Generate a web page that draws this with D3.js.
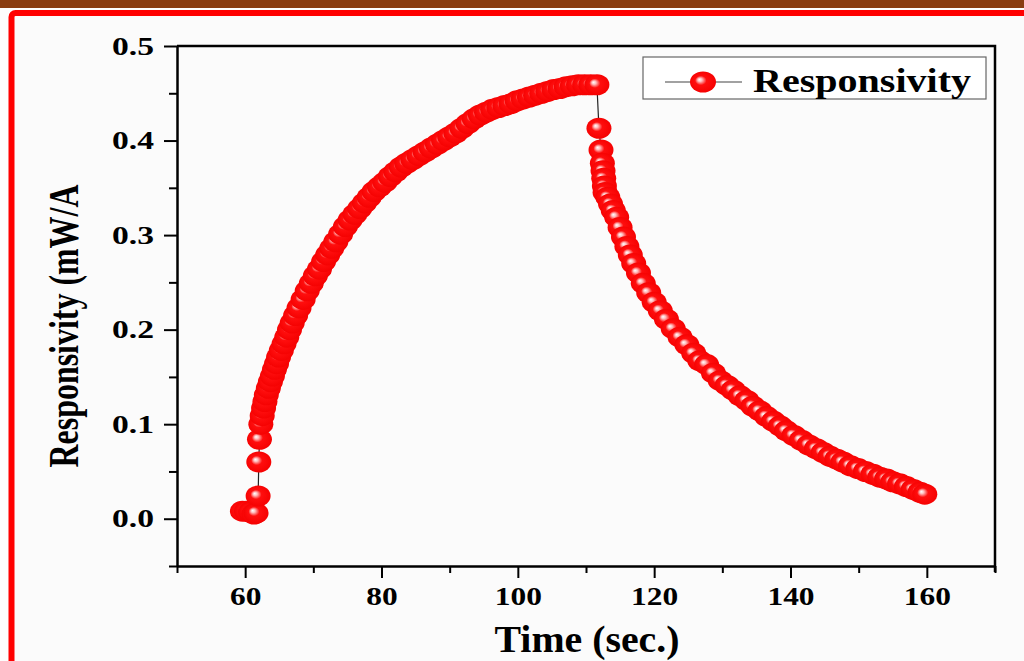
<!DOCTYPE html>
<html lang="en">
<head>
  <meta charset="UTF-8" />
  <title>Responsivity vs Time</title>
  <script src="https://d3js.org/d3.v7.min.js"></script>
  <style>
    body { margin: 0; background: #fdfdfd; }
    text { font-family: "Liberation Serif", "Times New Roman", serif; font-weight: bold; fill: #000; }
  </style>
</head>
<body>
  <div id="chart"></div>
  <script>
    // rise (light on) : time in sec, responsivity in mW/A
    const riseTime = [59.6, 60.2, 60.8, 61.3, 61.6, 61.9, 62.0, 62.1, 62.3, 62.5, 62.7, 62.9, 63.1, 63.4, 63.7, 64.0, 64.3, 64.6, 64.9, 65.3,
      65.7, 66.1, 66.5, 66.9, 67.4, 67.9, 68.5, 69.1, 69.7, 70.3, 70.9, 71.5, 72.1, 72.7, 73.3, 74.0, 74.7, 75.4, 76.1, 76.8,
      77.5, 78.2, 78.9, 79.7, 80.5, 81.3, 82.1, 82.9, 83.7, 84.6, 85.5, 86.4, 87.3, 88.2, 89.1, 90.0, 90.9, 91.8, 92.7, 93.6,
      94.5, 95.4, 96.3, 97.2, 98.1, 99.0, 99.9, 100.8, 101.7, 102.6, 103.5, 104.4, 105.3, 106.2, 107.1, 108.0, 108.9, 109.8, 110.7, 111.6];
    const riseResp = [0.008, 0.008, 0.007, 0.005, 0.006, 0.024, 0.060, 0.084, 0.100, 0.109, 0.117, 0.124, 0.131, 0.138, 0.145, 0.151, 0.158, 0.164, 0.171, 0.178,
      0.185, 0.192, 0.200, 0.207, 0.215, 0.223, 0.232, 0.241, 0.249, 0.257, 0.264, 0.272, 0.279, 0.286, 0.293, 0.301, 0.309, 0.316, 0.322, 0.328,
      0.334, 0.340, 0.346, 0.351, 0.356, 0.362, 0.367, 0.372, 0.376, 0.380, 0.384, 0.388, 0.392, 0.396, 0.400, 0.404, 0.408, 0.413, 0.418, 0.423,
      0.427, 0.430, 0.433, 0.435, 0.437, 0.439, 0.442, 0.444, 0.446, 0.448, 0.450, 0.452, 0.454, 0.455, 0.457, 0.458, 0.459, 0.459, 0.459, 0.459];
    // decay (light off)
    const decayTime = [111.9, 112.2, 112.4, 112.5, 112.6, 112.7, 112.8, 113.2, 113.6, 114.0, 114.5, 115.0, 115.5, 116.0, 116.5, 117.0, 117.7, 118.4, 119.2, 120.0,
      120.9, 121.8, 122.8, 123.8, 124.8, 125.8, 126.7, 127.7, 128.7, 129.7, 130.7, 131.6, 132.6, 133.6, 134.5, 135.5, 136.5, 137.5, 138.5, 139.4,
      140.5, 141.6, 142.7, 143.8, 144.8, 145.8, 146.8, 147.7, 148.8, 149.9, 151.0, 152.1, 153.1, 154.1, 155.0, 156.0, 157.0, 158.0, 159.0, 159.7];
    const decayResp = [0.413, 0.390, 0.376, 0.368, 0.360, 0.352, 0.345, 0.340, 0.333, 0.326, 0.319, 0.308, 0.298, 0.288, 0.279, 0.270, 0.260, 0.249, 0.239, 0.229,
      0.220, 0.211, 0.201, 0.192, 0.184, 0.175, 0.167, 0.163, 0.154, 0.146, 0.141, 0.136, 0.130, 0.125, 0.119, 0.114, 0.108, 0.103, 0.098, 0.093,
      0.088, 0.083, 0.078, 0.074, 0.070, 0.066, 0.063, 0.060, 0.056, 0.053, 0.050, 0.047, 0.044, 0.042, 0.039, 0.037, 0.034, 0.031, 0.028, 0.026];

    const xMajor = [60, 80, 100, 120, 140, 160];
    const xMinor = [50, 70, 90, 110, 130, 150, 170];
    const yMajor = [0.0, 0.1, 0.2, 0.3, 0.4, 0.5];
    const yMinor = [-0.05, 0.05, 0.15, 0.25, 0.35, 0.45];
    const seriesName = "Responsivity";

    const width = 1024, height = 661;
    const plot = {left: 177, right: 995, top: 46, bottom: 566};

    const svg = d3.select("#chart").append("svg").attr("width", width).attr("height", height);

    // slide decoration: brown bar and red frame
    svg.append("rect").attr("x", 0).attr("y", 0).attr("width", width).attr("height", 8).attr("fill", "#8a3c10");
    svg.append("rect").attr("x", 11.5).attr("y", 13).attr("width", width + 20).attr("height", height + 20)
      .attr("rx", 4).attr("fill", "#fbfbfb").attr("stroke", "#ff0000").attr("stroke-width", 6);

    const x = d3.scaleLinear().domain([50, 170]).range([plot.left, plot.right]);
    const y = d3.scaleLinear().domain([-0.05, 0.5]).range([plot.bottom, plot.top]);

    const defs = svg.append("defs");
    const grad = defs.append("radialGradient").attr("id", "ball")
      .attr("cx", "0.5").attr("cy", "0.5").attr("r", "0.55").attr("fx", "0.36").attr("fy", "0.38");
    grad.append("stop").attr("offset", "0%").attr("stop-color", "#ffffff");
    grad.append("stop").attr("offset", "15%").attr("stop-color", "#ffc0c0");
    grad.append("stop").attr("offset", "40%").attr("stop-color", "#ff0e0e");
    grad.append("stop").attr("offset", "100%").attr("stop-color", "#f40000");

    // labels set to a fixed width
    const fitWidth = (sel, w) => sel.attr("textLength", w).attr("lengthAdjust", "spacingAndGlyphs");

    // minor ticks
    svg.append("g").attr("transform", `translate(0,${plot.bottom})`)
      .call(d3.axisBottom(x).tickValues(xMinor).tickSize(7).tickFormat(""))
      .call(g => g.select(".domain").remove())
      .call(g => g.selectAll("line").attr("stroke", "#000").attr("stroke-width", 2));
    svg.append("g").attr("transform", `translate(${plot.left},0)`)
      .call(d3.axisLeft(y).tickValues(yMinor).tickSize(8).tickFormat(""))
      .call(g => g.select(".domain").remove())
      .call(g => g.selectAll("line").attr("stroke", "#000").attr("stroke-width", 2));

    // major ticks + labels
    const xAxis = svg.append("g").attr("transform", `translate(0,${plot.bottom})`)
      .call(d3.axisBottom(x).tickValues(xMajor).tickSize(12).tickPadding(9).tickSizeOuter(0).tickFormat(d3.format("d")));
    xAxis.selectAll("text").style("font-size", "26px").attr("dy", "0.68em")
      .each(function(d) { fitWidth(d3.select(this), String(d).length * 15.7); });

    const yAxis = svg.append("g").attr("transform", `translate(${plot.left},0)`)
      .call(d3.axisLeft(y).tickValues(yMajor).tickSize(13).tickPadding(10).tickSizeOuter(0).tickFormat(d3.format(".1f")));
    yAxis.selectAll("text").style("font-size", "26px").attr("dy", "0.31em")
      .each(function() { fitWidth(d3.select(this), 42); });

    [xAxis, yAxis].forEach(a => {
      a.selectAll("line").attr("stroke", "#000").attr("stroke-width", 2);
      a.select(".domain").attr("stroke", "#000").attr("stroke-width", 2.5);
    });

    // top and right frame lines
    svg.append("path")
      .attr("d", `M${plot.left},${plot.top}H${plot.right}V${plot.bottom + 6}`)
      .attr("fill", "none").attr("stroke", "#000").attr("stroke-width", 2.5);

    // data
    const rise = riseTime.map((t, i) => ({t, v: riseResp[i]}));
    const decay = decayTime.map((t, i) => ({t, v: decayResp[i]}));
    const points = rise.concat(decay);

    svg.append("path").datum(points)
      .attr("fill", "none").attr("stroke", "#222").attr("stroke-width", 1.2)
      .attr("d", d3.line().x(d => x(d.t)).y(d => y(d.v)));

    svg.append("g").selectAll("ellipse").data(points).enter().append("ellipse")
      .attr("cx", d => x(d.t)).attr("cy", d => y(d.v))
      .attr("rx", 12.5).attr("ry", 10.5)
      .attr("fill", "url(#ball)");

    // axis titles
    svg.append("text").attr("x", 587).attr("y", 652).attr("text-anchor", "middle")
      .style("font-size", "38px").text("Time (sec.)")
      .call(fitWidth, 185);

    svg.append("text")
      .attr("transform", "translate(78,326) rotate(-90)")
      .attr("text-anchor", "middle")
      .style("font-size", "42px")
      .text("Responsivity (mW/A")
      .call(fitWidth, 283);

    // legend
    const legend = svg.append("g");
    legend.append("rect").attr("x", 643).attr("y", 57).attr("width", 343).attr("height", 42)
      .attr("fill", "#fff").attr("stroke", "#666").attr("stroke-width", 1.2);
    legend.append("line").attr("x1", 665).attr("x2", 742).attr("y1", 82).attr("y2", 82)
      .attr("stroke", "#444").attr("stroke-width", 1.2);
    legend.append("ellipse").attr("cx", 703).attr("cy", 82).attr("rx", 13).attr("ry", 10.5).attr("fill", "url(#ball)");
    legend.append("text").attr("x", 753).attr("y", 92).style("font-size", "33px")
      .text(seriesName).call(fitWidth, 218);
  </script>
</body>
</html>
